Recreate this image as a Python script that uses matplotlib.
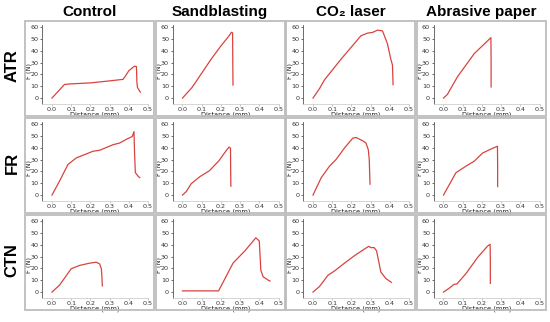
import matplotlib.pyplot as plt
from matplotlib.patches import Rectangle

# ---------------------------------------------------------
# Data: force (N) vs distance (mm)
# ---------------------------------------------------------
col_titles = ["Control", "Sandblasting", "CO\u2082 laser", "Abrasive paper"]
row_titles = ["ATR", "FR", "CTN"]

# ATR row
ctrl_atr_x = [0, 0.065, 0.1, 0.2, 0.3, 0.37, 0.38, 0.40, 0.43, 0.44, 0.442, 0.445, 0.46]
ctrl_atr_y = [0, 11.5, 12, 12.8, 14.5, 15.8, 18, 23, 27, 26.5, 14, 9, 5]
sand_atr_x = [0, 0.05, 0.1, 0.15, 0.2, 0.24, 0.255, 0.261, 0.262, 0.263]
sand_atr_y = [0, 9, 21, 33, 44, 52, 55.5, 55, 30, 11]
co2_atr_x = [0, 0.034, 0.06, 0.147, 0.25, 0.284, 0.31, 0.336, 0.362, 0.388, 0.405, 0.414, 0.417]
co2_atr_y = [0, 8, 15.4, 33, 52.6, 54.8, 55.4, 57.3, 56.7, 45.7, 33, 27.8, 11.3]
abr_atr_x = [0, 0.02, 0.073, 0.16, 0.247, 0.248, 0.248]
abr_atr_y = [0, 3, 18, 37.5, 51, 30, 9.4]

# FR row
ctrl_fr_x = [0, 0.04, 0.083, 0.127, 0.214, 0.248, 0.318, 0.352, 0.387, 0.418, 0.427, 0.43, 0.434, 0.448, 0.457]
ctrl_fr_y = [0, 12, 25.8, 31.4, 37, 37.8, 42.5, 43.9, 47, 49.4, 53.6, 35.5, 19, 16, 14.7]
sand_fr_x = [0, 0.02, 0.045, 0.09, 0.14, 0.19, 0.23, 0.243, 0.25, 0.251, 0.252]
sand_fr_y = [0, 3, 9.5, 15.5, 20.5, 29, 38, 40.5, 39.5, 20, 7.5]
co2_fr_x = [0, 0.043, 0.086, 0.12, 0.164, 0.207, 0.224, 0.259, 0.276, 0.288, 0.293, 0.297]
co2_fr_y = [0, 14.7, 24.4, 30, 39.7, 48, 48.6, 45.8, 43.9, 38.3, 30, 9.2]
abr_fr_x = [0, 0.065, 0.117, 0.16, 0.204, 0.248, 0.281, 0.282, 0.282]
abr_fr_y = [0, 18.9, 24.4, 28.6, 35.5, 38.9, 41.2, 25, 7.2]

# CTN row
ctrl_ctn_x = [0, 0.04, 0.1, 0.144, 0.196, 0.23, 0.248, 0.257, 0.26, 0.262]
ctrl_ctn_y = [0, 6, 19.7, 22.5, 24.4, 25.2, 23.8, 19.7, 12.9, 5.2]
sand_ctn_x = [0, 0.1, 0.188, 0.263, 0.325, 0.382, 0.4, 0.408, 0.42, 0.447, 0.456]
sand_ctn_y = [1, 1, 1, 24.4, 34.8, 45.8, 43, 18.4, 12.9, 10, 9.3]
co2_ctn_x = [0, 0.034, 0.078, 0.112, 0.164, 0.216, 0.267, 0.29, 0.302, 0.319, 0.331, 0.345, 0.353, 0.379, 0.408]
co2_ctn_y = [0, 4.7, 14.2, 17.8, 24.4, 30.7, 36.2, 38.6, 37.5, 37.5, 34.8, 23.8, 17, 11.5, 8.2]
abr_ctn_x = [0, 0.03, 0.056, 0.07, 0.117, 0.178, 0.23, 0.243, 0.244, 0.244]
abr_ctn_y = [0, 3.3, 6.6, 6.8, 15.6, 29.3, 38.9, 40.3, 25, 7.4]

curves = [
    [(ctrl_atr_x, ctrl_atr_y), (sand_atr_x, sand_atr_y), (co2_atr_x, co2_atr_y), (abr_atr_x, abr_atr_y)],
    [(ctrl_fr_x, ctrl_fr_y), (sand_fr_x, sand_fr_y), (co2_fr_x, co2_fr_y), (abr_fr_x, abr_fr_y)],
    [(ctrl_ctn_x, ctrl_ctn_y), (sand_ctn_x, sand_ctn_y), (co2_ctn_x, co2_ctn_y), (abr_ctn_x, abr_ctn_y)],
]

x_ticks = [0.0, 0.1, 0.2, 0.3, 0.4, 0.5]
y_ticks = [0, 10, 20, 30, 40, 50, 60]

# ---------------------------------------------------------
# Style
# ---------------------------------------------------------
line_color = "#d9433f"
frame_color = "#bdbdbd"
axis_color = "#555555"

W, H = 550, 322
fig = plt.figure(figsize=(W / 100, H / 100), dpi=100)

col_left = [25, 155.5, 286, 416.5]
row_top = [21, 118, 215]
frame_w, frame_h = 129, 95


def fx(px):
    return px / W


def fy(py):
    return 1 - py / H


for r in range(3):
    for c in range(4):
        L, T = col_left[c], row_top[r]

        # gray panel frame
        fig.patches.append(Rectangle((fx(L), fy(T + frame_h)), frame_w / W, frame_h / H,
                                     transform=fig.transFigure, fill=False,
                                     edgecolor=frame_color, linewidth=1.3))

        ax = fig.add_axes([fx(L + 17), fy(T + 83), 106 / W, (83 - 3.6) / H])
        x, y = curves[r][c]
        ax.plot(x, y, color=line_color, linewidth=0.9)

        ax.set_xlim(-0.052, 0.5)
        ax.set_ylim(-5, 62)
        ax.set_xticks(x_ticks)
        ax.set_xticklabels([f"{t:.1f}" for t in x_ticks])
        ax.set_yticks(y_ticks)

        ax.spines["top"].set_visible(False)
        ax.spines["right"].set_visible(False)
        ax.spines["left"].set_color(axis_color)
        ax.spines["left"].set_linewidth(0.6)
        ax.spines["bottom"].set_color("#cfcfcf")
        ax.spines["bottom"].set_linewidth(0.6)
        ax.tick_params(axis="both", labelsize=4.6, length=1.5, width=0.5,
                       pad=1, colors="#333333")
        ax.tick_params(axis="x", color="#aaaaaa")
        ax.set_xlabel("Distance (mm)", fontsize=4.8, labelpad=-0.5, color="#222222")
        ax.set_ylabel("F (N)", fontsize=4.8, color="#222222")
        ax.yaxis.set_label_coords(-0.095, 0.42)

# column headers
for c, title in enumerate(col_titles):
    fig.text(fx(col_left[c] + frame_w / 2), fy(12), title, ha="center", va="center",
             fontsize=11, fontweight="bold", family="Liberation Sans")

# row headers
for r, title in enumerate(row_titles):
    fig.text(fx(12), fy(row_top[r] + 45), title, ha="center", va="center",
             rotation=90, fontsize=12, fontweight="bold", family="Liberation Sans")

fig.savefig("out.png", dpi=100)
